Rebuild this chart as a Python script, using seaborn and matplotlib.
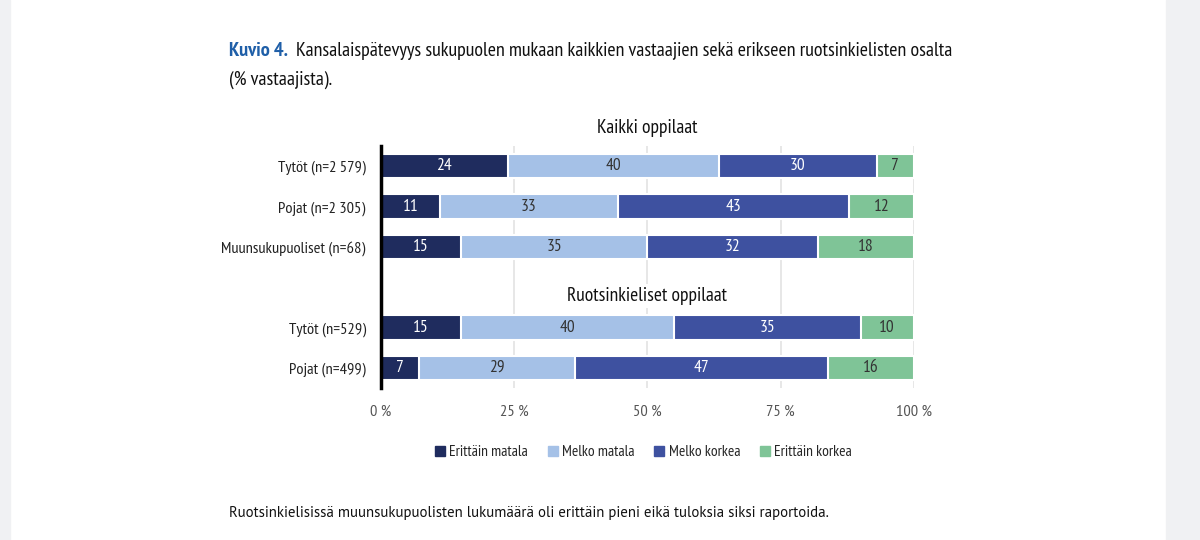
import numpy as np
import pandas as pd
import matplotlib
matplotlib.use("Agg")
import matplotlib.pyplot as plt
import seaborn as sns
from matplotlib.patches import Rectangle

# data
groups = ["Tytöt (n=2\u2009579)", "Pojat (n=2\u2009305)", "Muunsukupuoliset (n=68)",
          "Tytöt (n=529)", "Pojat (n=499)"]
order = groups[:3] + [" "] + groups[3:]
levels = ["Erittäin matala", "Melko matala", "Melko korkea", "Erittäin korkea"]
erittain_matala = [24, 11, 15, 15, 7]
melko_matala = [40, 33, 35, 40, 29]
melko_korkea = [30, 43, 32, 35, 47]
erittain_korkea = [7, 12, 18, 10, 16]
xticks = [0, 25, 50, 75, 100]

colors = ["#1f2c5e", "#a5c1e7", "#3e51a0", "#7fc497"]
txt_colors = ["white", "#333333", "white", "#333333"]

sns.set_theme(style="white")
plt.rcParams["font.family"] = ["PT Sans Narrow", "DejaVu Sans"]

df = pd.DataFrame({"group": groups,
                   levels[0]: erittain_matala, levels[1]: melko_matala,
                   levels[2]: melko_korkea, levels[3]: erittain_korkea})
# rounded shares don't always sum to 100 -> scale each row to full width
share = df[levels].div(df[levels].sum(axis=1), axis=0) * 100
cum = share.cumsum(axis=1)

fig = plt.figure(figsize=(12, 5.4), dpi=100)
# page edges
fig.patches.append(Rectangle((0, 0), 0.008, 1, transform=fig.transFigure, color="#f0f1f3", zorder=-5))
fig.patches.append(Rectangle((0.972, 0), 0.028, 1, transform=fig.transFigure, color="#f0f1f3", zorder=-5))

ax = fig.add_axes([0.3175, 0.2815, 0.444, 0.448])
for x in xticks[1:]:
    ax.axvline(x, color="#e3e3e3", lw=1.2, zorder=0)

for i in range(len(levels) - 1, -1, -1):
    sns.barplot(x=cum[levels[i]], y=df["group"], order=order, orient="h",
                color=colors[i], saturation=1, width=0.6, edgecolor="white",
                linewidth=1.5, ax=ax, zorder=2)

pos = {g: order.index(g) for g in groups}
for j, g in enumerate(groups):
    for i, lev in enumerate(levels):
        ax.text(cum.loc[j, lev] - share.loc[j, lev] / 2, pos[g], str(df.loc[j, lev]),
                ha="center", va="center", color=txt_colors[i], fontsize=12.5, zorder=5)

ax.set_xlim(0, 100)
ax.set_ylim(5.5, -0.5)
ax.set_xticks(xticks)
ax.set_xticklabels([f"{t} %" for t in xticks], fontsize=11.8, color="#555555")
ax.tick_params(axis="x", length=0, pad=12)
ax.tick_params(axis="y", length=0, pad=11, labelsize=11.8, labelcolor="#222222")
ax.set_xlabel("")
ax.set_ylabel("")
for s in ["top", "right", "bottom"]:
    ax.spines[s].set_visible(False)
ax.spines["left"].set_color("black")
ax.spines["left"].set_linewidth(2.5)
ax.spines["left"].set_zorder(6)

ax.text(50, -0.72, "Kaikki oppilaat", ha="center", va="bottom", fontsize=14,
        color="#111111", clip_on=False)
ax.text(50, 3.22, "Ruotsinkieliset oppilaat", ha="center", va="center", fontsize=14,
        color="#111111", zorder=4, bbox=dict(facecolor="white", edgecolor="none", pad=2))

# legend
handles = [plt.Line2D([], [], marker="s", ls="", color=c, markersize=6.5) for c in colors]
fig.legend(handles, levels, loc="center", bbox_to_anchor=(0.536, 0.163), ncol=4,
           frameon=False, fontsize=11.2, handlelength=0.7, handletextpad=0.25,
           columnspacing=1.25)

fig.text(0.191, 0.905, "Kuvio 4.", fontsize=14.6, color="#1f5fa8", fontweight="bold", va="center")
fig.text(0.2467, 0.905, "Kansalaispätevyys sukupuolen mukaan kaikkien vastaajien sekä erikseen ruotsinkielisten osalta",
         fontsize=14.4, va="center", color="#111111")
fig.text(0.191, 0.852, "(% vastaajista).", fontsize=14.4, va="center", color="#111111")
fig.text(0.191, 0.05, "Ruotsinkielisissä muunsukupuolisten lukumäärä oli erittäin pieni eikä tuloksia siksi raportoida.",
         fontsize=10.7, va="center", color="#111111", family=["PT Sans", "DejaVu Sans"])

fig.savefig("out.png", dpi=100)
